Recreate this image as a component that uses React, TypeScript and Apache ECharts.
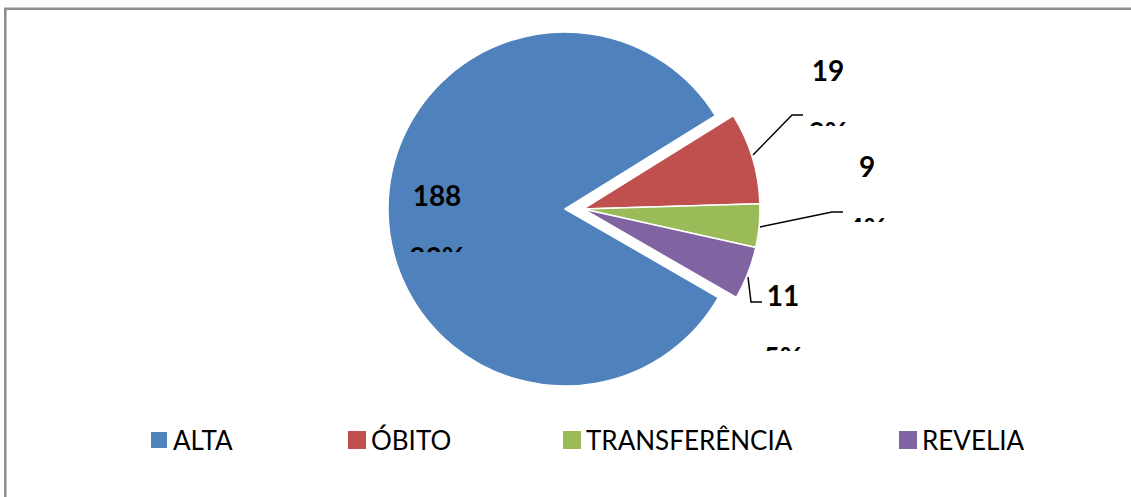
import React, { useEffect, useRef } from "react";
import * as echarts from "echarts";

const categories = ["ALTA", "ÓBITO", "TRANSFERÊNCIA", "REVELIA"];
const values = [188, 19, 9, 11];
const colors = ["#4F81BD", "#C0504D", "#9BBB59", "#8064A2"];

// label layout (style positions)
const labelCenters = [
  [437, 195],
  [828, 70],
  [867, 166],
  [783, 295],
];
const leaderPoints: (number[][] | null)[] = [
  null,
  [
    [753, 155],
    [792, 115],
    [803, 115],
  ],
  [
    [760, 227],
    [832, 212],
    [843, 212],
  ],
  [
    [748, 277],
    [751, 302],
    [762, 302],
  ],
];
const legendLeft = [149, 348, 563, 899];
// masks that clip the percentage lines (as in the reference)
const masks = [
  { x: 404, y: 252, w: 68, h: 22, fill: "#4F81BD" },
  { x: 800, y: 126, w: 60, h: 30, fill: "#ffffff" },
  { x: 845, y: 222, w: 50, h: 30, fill: "#ffffff" },
  { x: 758, y: 351, w: 52, h: 30, fill: "#ffffff" },
];

const FONT = "Lato";

function makeSeries(visible: number[], center: number[]) {
  return {
    type: "pie",
    center,
    radius: 177,
    startAngle: 330,
    clockwise: true,
    percentPrecision: 0,
    silent: true,
    emphasis: { disabled: true },
    label: {
      show: true,
      formatter: (p: any) => `{v|${p.value}}\n{p|${p.percent}%}`,
      rich: {
        v: { fontFamily: FONT, fontWeight: "bold", fontSize: 28, lineHeight: 31, color: "#000" },
        p: { fontFamily: FONT, fontWeight: "bold", fontSize: 28, lineHeight: 92, color: "#000" },
      },
    },
    labelLine: { show: true, lineStyle: { color: "#000", width: 1.5 } },
    labelLayout: (params: any) => {
      const i = params.dataIndex;
      const [cx, cy] = labelCenters[i];
      const res: any = { x: cx, y: cy - 15.5, align: "center", verticalAlign: "top" };
      if (leaderPoints[i]) res.labelLinePoints = leaderPoints[i];
      return res;
    },
    data: categories.map((name, i) => {
      const vis = visible.includes(i);
      return {
        name,
        value: values[i],
        itemStyle: vis
          ? { color: colors[i], borderColor: "#ffffff", borderWidth: 1.5 }
          : { color: "rgba(0,0,0,0)", borderWidth: 0 },
        label: { show: vis },
        labelLine: {
          show: vis,
          lineStyle: i === 0 ? { opacity: 0 } : { color: "#000", width: 1.5 },
        },
      };
    }),
  };
}

export default function App() {
  const ref = useRef<HTMLDivElement>(null);
  useEffect(() => {
    if (!ref.current) return;
    const chart = echarts.init(ref.current, undefined, { renderer: "svg" });
    const option: any = {
      animation: false,
      backgroundColor: "#ffffff",
      legend: categories.map((name, i) => ({
        data: [{ name, itemStyle: { color: colors[i] } }],
        left: legendLeft[i],
        top: 427,
        padding: 0,
        itemWidth: 18,
        itemHeight: 18,
        icon: "rect",
        selectedMode: false,
        textStyle: { fontFamily: FONT, fontSize: 26, color: "#000", lineHeight: 26 },
      })),
      graphic: [
        {
          type: "rect",
          z: 100,
          shape: { x: 5.3, y: 8.7, width: 1200, height: 600 },
          style: { fill: "none", stroke: "#8f8f8f", lineWidth: 2.6 },
          silent: true,
        },
        ...masks.map((m) => ({
          type: "rect",
          z: 100,
          shape: { x: m.x, y: m.y, width: m.w, height: m.h },
          style: { fill: m.fill },
          silent: true,
        })),
      ],
      series: [
        // ALTA, exploded to the left
        makeSeries([0], [565, 209]),
        // remaining slices
        makeSeries([1, 2, 3], [583, 209]),
      ],
    };
    chart.setOption(option);
    return () => chart.dispose();
  }, []);
  return (
    <div
      ref={ref}
      style={{ position: "fixed", left: 0, top: 0, width: 1131, height: 497, background: "#fff" }}
    />
  );
}
